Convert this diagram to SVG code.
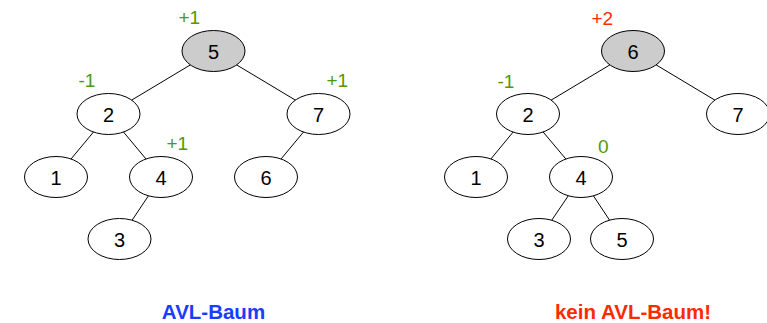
<svg xmlns="http://www.w3.org/2000/svg" width="767" height="323" viewBox="0 0 767 323">
<style>
.n ellipse{fill:#fff;stroke:#000;stroke-width:1}
.n.root ellipse{fill:#cccccc}
.n text{font-family:"Liberation Sans",Arial,sans-serif;font-size:20px;text-anchor:middle;fill:#000}
.e line{stroke:#000;stroke-width:1}
.b{font-family:"Liberation Sans",Arial,sans-serif;font-size:19px;fill:#4e9a06}
.bad{fill:#ff2a00}
.cap{font-family:"Liberation Sans",Arial,sans-serif;font-size:20.5px;font-weight:bold;text-anchor:middle}
</style>
<rect width="767" height="323" fill="#fff"/>
<g id="connectors" class="e">
<line x1="213.5" y1="51" x2="108.5" y2="114"/>
<line x1="213.5" y1="51" x2="318.5" y2="114"/>
<line x1="108.5" y1="114" x2="56" y2="177"/>
<line x1="108.5" y1="114" x2="161" y2="177"/>
<line x1="318.5" y1="114" x2="266" y2="177"/>
<line x1="161" y1="177" x2="119.5" y2="239"/>
<line x1="633" y1="51" x2="528" y2="114"/>
<line x1="633" y1="51" x2="738" y2="114"/>
<line x1="528" y1="114" x2="476" y2="177"/>
<line x1="528" y1="114" x2="581" y2="177"/>
<line x1="581" y1="177" x2="539" y2="239"/>
<line x1="581" y1="177" x2="622" y2="239"/>
</g>
<g id="L5" class="n root"><ellipse cx="213.5" cy="51" rx="31.5" ry="20.5"/><text x="213.5" y="58.5">5</text></g>
<g id="L2" class="n"><ellipse cx="108.5" cy="114" rx="31.5" ry="20.5"/><text x="108.5" y="121.5">2</text></g>
<g id="L7" class="n"><ellipse cx="318.5" cy="114" rx="31.5" ry="20.5"/><text x="318.5" y="121.5">7</text></g>
<g id="L1" class="n"><ellipse cx="56" cy="177" rx="31.5" ry="20.5"/><text x="56" y="184.5">1</text></g>
<g id="L4" class="n"><ellipse cx="161" cy="177" rx="31.5" ry="20.5"/><text x="161" y="184.5">4</text></g>
<g id="L6" class="n"><ellipse cx="266" cy="177" rx="31.5" ry="20.5"/><text x="266" y="184.5">6</text></g>
<g id="L3" class="n"><ellipse cx="119.5" cy="239" rx="31.5" ry="20.5"/><text x="119.5" y="246.5">3</text></g>
<g id="R6" class="n root"><ellipse cx="633" cy="51" rx="31.5" ry="20.5"/><text x="633" y="58.5">6</text></g>
<g id="R2" class="n"><ellipse cx="528" cy="114" rx="31.5" ry="20.5"/><text x="528" y="121.5">2</text></g>
<g id="R7" class="n"><ellipse cx="738" cy="114" rx="31.5" ry="20.5"/><text x="738" y="121.5">7</text></g>
<g id="R1" class="n"><ellipse cx="476" cy="177" rx="31.5" ry="20.5"/><text x="476" y="184.5">1</text></g>
<g id="R4" class="n"><ellipse cx="581" cy="177" rx="31.5" ry="20.5"/><text x="581" y="184.5">4</text></g>
<g id="R3" class="n"><ellipse cx="539" cy="239" rx="31.5" ry="20.5"/><text x="539" y="246.5">3</text></g>
<g id="R5" class="n"><ellipse cx="622" cy="239" rx="31.5" ry="20.5"/><text x="622" y="246.5">5</text></g>
<g id="balances">
<text class="b" x="178.5" y="24">+1</text>
<text class="b" x="78.5" y="87">-1</text>
<text class="b" x="326.5" y="87">+1</text>
<text class="b" x="166.5" y="150">+1</text>
<text class="b bad" x="591.5" y="25">+2</text>
<text class="b" x="497.5" y="88">-1</text>
<text class="b" x="598" y="153">0</text>
</g>
<text class="cap" x="213.5" y="319" fill="#1a3cff">AVL-Baum</text>
<text class="cap" x="633" y="319" fill="#ff2a00">kein AVL-Baum!</text>
</svg>
